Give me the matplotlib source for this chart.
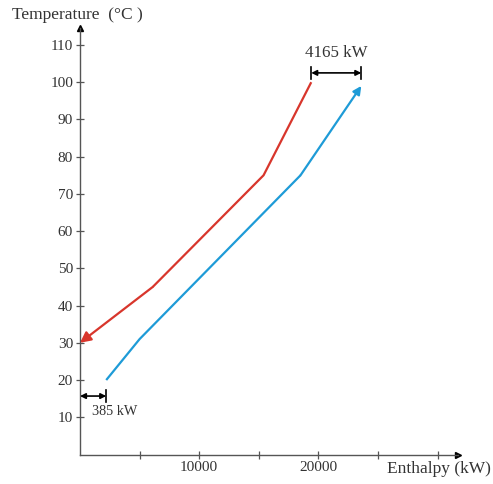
import matplotlib.pyplot as plt

# Data
hot_h = [19400, 15400, 6100, 0]
hot_t = [100, 75, 45, 30]
cold_h = [2200, 5000, 18500, 23600]
cold_t = [20, 31, 75, 99]

yticks = [10, 20, 30, 40, 50, 60, 70, 80, 90, 100, 110]
xticks = [5000, 10000, 15000, 20000, 25000, 30000]
xticklabels = ['', '10000', '', '20000', '', '']

gap_top = (19400, 23600, 102.5, '4165 kW')
gap_bot = (0, 2200, 15.7, '385 kW')

W, H = 493, 484
plt.rcParams['font.family'] = ['Liberation Serif', 'DejaVu Serif']
fig = plt.figure(figsize=(W / 100, H / 100), dpi=100)
x0, y0, x1, y1 = 80, 454.5, 458, 28
ax = fig.add_axes([x0 / W, (H - y0) / H, (x1 - x0) / W, (y0 - y1) / H])
ax.set_xlim(0, (x1 - x0) / 0.01192)
ax.set_ylim(0, (y0 - y1) / 3.723)

axcol = '#555555'
txtcol = '#333333'
for s in ['top', 'right']:
    ax.spines[s].set_visible(False)
for s in ['left', 'bottom']:
    ax.spines[s].set_color(axcol)
    ax.spines[s].set_linewidth(1.0)
ax.plot(1, 0, '>', color='black', ms=5, transform=ax.transAxes, clip_on=False)
ax.plot(0, 1, '^', color='black', ms=5, transform=ax.transAxes, clip_on=False)

ax.set_yticks(yticks)
ax.set_yticklabels([str(v) for v in yticks])
ax.set_xticks(xticks)
ax.set_xticklabels(xticklabels)
ax.tick_params(direction='inout', length=6, width=0.9, color=axcol,
               labelsize=11, labelcolor=txtcol, pad=2)

red = '#d8362c'
blue = '#1e9bd7'
ax.plot(hot_h[:-1], hot_t[:-1], color=red, lw=1.6, solid_capstyle='butt')
ax.annotate('', xy=(hot_h[-1], hot_t[-1]), xytext=(hot_h[-2], hot_t[-2]),
            arrowprops=dict(arrowstyle='-|>', color=red, lw=1.6,
                            mutation_scale=16, shrinkA=0, shrinkB=0))
ax.plot(cold_h[:-1], cold_t[:-1], color=blue, lw=1.6, solid_capstyle='butt')
ax.annotate('', xy=(cold_h[-1], cold_t[-1]), xytext=(cold_h[-2], cold_t[-2]),
            arrowprops=dict(arrowstyle='-|>', color=blue, lw=1.6,
                            mutation_scale=12, shrinkA=0, shrinkB=0))

for (a, b, y, lab), above in [(gap_top, True), (gap_bot, False)]:
    ax.annotate('', xy=(a, y), xytext=(b, y),
                arrowprops=dict(arrowstyle='<|-|>', color='black', lw=1.2,
                                mutation_scale=8, shrinkA=0, shrinkB=0))
    ax.plot([b, b], [y - 1.7, y + 1.7], color='black', lw=1.2, clip_on=False)
    if a > 0:
        ax.plot([a, a], [y - 1.7, y + 1.7], color='black', lw=1.2, clip_on=False)
    if above:
        ax.text((a + b) / 2, y + 3.3, lab, ha='center', va='bottom',
                fontsize=12.2, color=txtcol)
    else:
        ax.text(1000, y - 2.3, lab, ha='left', va='top',
                fontsize=10.3, color=txtcol)

fig.text(12 / W, 1 - 15 / H, 'Temperature  (\u00b0C )', ha='left', va='center',
         fontsize=12.5, color=txtcol)
fig.text(387 / W, 1 - 469 / H, 'Enthalpy (kW)', ha='left', va='center',
         fontsize=12.5, color=txtcol)

fig.savefig('out.png', dpi=100)
